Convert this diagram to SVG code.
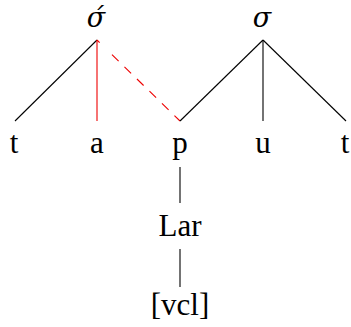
<svg xmlns="http://www.w3.org/2000/svg" width="351" height="327" viewBox="0 0 351 327">
<style>
.sig{font-family:"DejaVu Serif",serif;font-style:italic;font-size:27px}
line{stroke:#000;stroke-width:1.1}
.red{stroke:#e00}
.dash{stroke:#e00;stroke-dasharray:3.7 17.2 9.3 8.16 9.3 8.16 9.3 8.16 9.3 8.16 9.3 8.16 9.3 20}
</style>
<rect width="351" height="327" fill="#fff"/>
<g id="connectors">
<line x1="97" y1="40" x2="15" y2="121"/>
<line class="red" x1="97" y1="40" x2="97" y2="121"/>
<line class="dash" x1="97" y1="40" x2="180" y2="121"/>
<line x1="263" y1="40" x2="180" y2="121"/>
<line x1="263" y1="40" x2="263" y2="121"/>
<line x1="263" y1="40" x2="346" y2="121"/>
<line x1="180" y1="167" x2="180" y2="203"/>
<line x1="180" y1="249" x2="180" y2="287"/>
</g>
<g font-family="Liberation Serif, DejaVu Serif, serif" font-size="31" text-anchor="middle" fill="#000">
<g id="sigma1"><text class="sig" x="96" y="27">σ́</text></g>
<g id="sigma2"><text class="sig" x="262" y="27">σ</text></g>
<g id="t1"><text x="14" y="153">t</text></g>
<g id="a"><text x="97" y="153">a</text></g>
<g id="p"><text x="180" y="153">p</text></g>
<g id="u"><text x="263" y="153">u</text></g>
<g id="t2"><text x="345" y="153">t</text></g>
<g id="Lar"><text x="180" y="236">Lar</text></g>
<g id="vcl"><text x="180" y="315">[vcl]</text></g>
</g>
</svg>
